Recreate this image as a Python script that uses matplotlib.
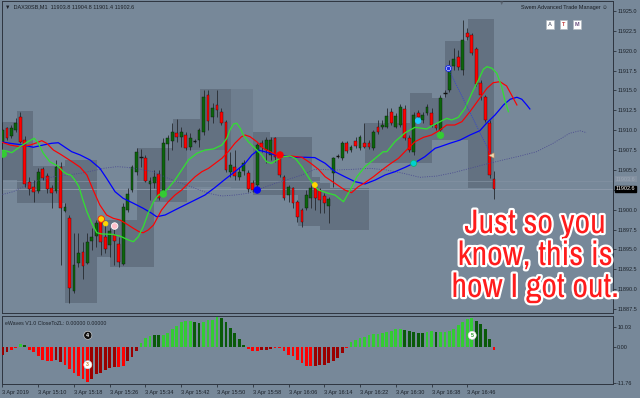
import matplotlib
matplotlib.use('Agg')
import matplotlib.pyplot as plt
import matplotlib.transforms as mtransforms
from matplotlib.patches import Rectangle
from matplotlib import patheffects as pe
from matplotlib import font_manager as fm
import numpy as np

plt.rcParams['font.family'] = ['Liberation Sans', 'DejaVu Sans']

# ---------------- data ----------------
symbol_label = '▼  DAX30SB,M1  11903.8 11904.8 11901.4 11902.6'
osc_label = 'eWaves V1.0 CloseToZL: 0.00000 0.00000'
last_price = 11902.6
ask_price = 11903.6

opens = [11908.51, 11910.27, 11909.27, 11910.02, 11911.66, 11908.76, 11903.48, 11902.85, 11902.35, 11905.11,
         11904.23, 11902.72, 11902.35, 11905.37, 11899.83, 11898.95, 11889.76, 11893.29, 11894.67, 11893.29,
         11896.05, 11896.68, 11898.70, 11896.56, 11895.55, 11896.81, 11895.68, 11893.16, 11899.96, 11902.47,
         11904.74, 11906.62, 11906.50, 11903.23, 11903.35, 11904.49, 11902.10, 11908.26, 11908.64, 11909.64,
         11909.14, 11909.39, 11907.88, 11908.64, 11908.76, 11909.77, 11914.43, 11911.66, 11913.17, 11912.29,
         11911.03, 11904.74, 11905.37, 11904.11, 11904.86, 11904.61, 11903.35, 11903.10, 11908.39, 11907.50,
         11906.88, 11909.01, 11906.62, 11904.11, 11901.84, 11902.72, 11900.96, 11899.96, 11900.21, 11901.47,
         11902.85, 11902.47, 11901.72, 11900.46, 11904.61, 11906.75, 11906.50, 11908.39, 11907.50, 11908.64,
         11907.76, 11908.39, 11908.39, 11907.76, 11910.40, 11910.40, 11910.40, 11912.29, 11910.40, 11910.65,
         11912.66, 11909.01, 11907.25, 11912.16, 11911.28, 11912.16, 11912.16, 11910.65, 11910.02, 11914.68,
         11915.06, 11918.08, 11919.21, 11917.57, 11922.23, 11921.98, 11920.21, 11915.94, 11914.17, 11910.90,
         11903.86]
highs = [11911.03, 11910.40, 11910.65, 11911.53, 11912.29, 11909.27, 11904.11, 11903.73, 11905.24, 11905.37,
         11904.61, 11903.10, 11906.25, 11906.00, 11900.84, 11899.33, 11897.06, 11897.06, 11895.93, 11897.06,
         11897.69, 11898.70, 11899.08, 11898.32, 11897.69, 11897.82, 11896.56, 11900.84, 11902.72, 11905.62,
         11907.76, 11907.63, 11906.88, 11904.11, 11904.99, 11904.99, 11909.01, 11909.39, 11910.90, 11911.40,
         11910.40, 11909.77, 11909.64, 11908.89, 11910.27, 11915.06, 11915.06, 11913.42, 11915.06, 11912.79,
         11911.28, 11907.25, 11907.50, 11905.37, 11906.25, 11904.99, 11903.73, 11908.39, 11908.76, 11909.14,
         11909.14, 11909.14, 11906.88, 11904.36, 11903.10, 11902.85, 11901.22, 11900.21, 11902.47, 11903.10,
         11903.10, 11902.72, 11902.10, 11901.59, 11906.62, 11907.00, 11908.64, 11908.64, 11908.13, 11909.14,
         11909.39, 11910.90, 11908.76, 11910.02, 11911.28, 11911.28, 11912.79, 11912.79, 11912.16, 11913.29,
         11913.17, 11909.39, 11912.29, 11912.54, 11912.29, 11913.29, 11912.79, 11910.90, 11914.43, 11915.06,
         11918.83, 11920.34, 11920.09, 11923.86, 11922.86, 11922.23, 11920.47, 11916.31, 11914.43, 11911.28,
         11904.86]
lows = [11907.50, 11908.76, 11909.01, 11909.77, 11908.39, 11902.85, 11901.84, 11900.96, 11902.10, 11903.73,
        11902.10, 11900.21, 11902.10, 11893.04, 11899.71, 11888.25, 11889.51, 11892.78, 11891.27, 11893.16,
        11894.92, 11895.30, 11894.30, 11894.55, 11894.04, 11893.04, 11892.78, 11893.04, 11899.71, 11902.22,
        11904.36, 11905.37, 11903.48, 11901.22, 11902.72, 11901.22, 11901.84, 11906.25, 11907.50, 11908.51,
        11907.88, 11907.50, 11907.50, 11908.39, 11907.88, 11909.39, 11910.02, 11910.90, 11911.66, 11910.65,
        11904.74, 11904.11, 11903.73, 11903.73, 11904.36, 11902.22, 11902.22, 11902.72, 11907.25, 11905.87,
        11906.25, 11906.00, 11904.11, 11901.22, 11900.96, 11900.21, 11898.45, 11897.82, 11899.96, 11900.21,
        11899.96, 11899.58, 11899.58, 11898.32, 11902.85, 11906.50, 11906.25, 11907.13, 11907.25, 11907.76,
        11907.50, 11907.76, 11907.63, 11907.50, 11909.52, 11910.15, 11910.27, 11910.65, 11910.27, 11910.40,
        11908.76, 11907.25, 11906.88, 11911.40, 11910.90, 11911.91, 11910.40, 11910.02, 11909.77, 11914.17,
        11914.80, 11917.57, 11917.57, 11916.94, 11921.35, 11919.46, 11915.56, 11913.80, 11911.03, 11903.98,
        11901.34]
closes = [11910.02, 11909.01, 11910.27, 11910.90, 11908.51, 11903.23, 11902.60, 11902.22, 11904.74, 11903.98,
          11902.60, 11902.10, 11905.37, 11900.21, 11900.34, 11890.14, 11893.04, 11894.55, 11892.91, 11895.93,
          11896.56, 11898.32, 11895.93, 11895.05, 11897.31, 11896.05, 11893.41, 11900.34, 11901.97, 11905.37,
          11907.25, 11906.55, 11903.61, 11903.61, 11904.11, 11901.47, 11908.39, 11909.01, 11909.77, 11909.14,
          11909.77, 11907.76, 11909.01, 11908.58, 11910.02, 11914.17, 11911.15, 11912.79, 11912.54, 11910.90,
          11904.99, 11905.62, 11904.23, 11904.74, 11905.87, 11902.60, 11902.47, 11908.13, 11907.88, 11908.76,
          11908.76, 11906.62, 11904.36, 11901.47, 11902.85, 11900.84, 11899.08, 11898.45, 11901.84, 11902.72,
          11901.47, 11901.22, 11900.84, 11901.34, 11906.50, 11906.70, 11908.39, 11907.38, 11907.88, 11908.01,
          11909.14, 11907.88, 11907.88, 11909.77, 11909.77, 11910.65, 11911.78, 11910.90, 11911.78, 11912.92,
          11909.01, 11907.50, 11911.91, 11911.66, 11911.91, 11912.92, 11910.65, 11910.27, 11914.05, 11914.60,
          11917.82, 11918.96, 11917.95, 11921.35, 11921.72, 11919.71, 11915.81, 11914.43, 11911.28, 11904.36,
          11902.60]

# moving-average lines (bar index, price)
green_x = [-0.5, 0.6, 2.1, 3.9, 5.7, 7.1, 8.0, 9.1, 10.6, 12.4, 13.6, 14.5, 15.3, 16.2, 17.1, 18.0, 18.9, 20.0,
           21.1, 22.2, 24.5, 26.3, 28.2, 29.3, 30.4, 31.5, 32.6, 33.8, 34.9, 36.0, 37.1, 38.6, 40.1, 41.6, 43.5,
           45.3, 47.2, 49.1, 50.2, 50.9, 51.7, 52.4, 53.2, 53.9, 55.0, 56.5, 58.0, 59.1, 60.2, 61.4, 62.8, 64.3,
           65.5, 67.0, 68.4, 69.6, 70.7, 72.9, 74.4, 76.3, 77.8, 79.3, 81.1, 83.4, 85.2, 86.0, 87.8, 90.1, 92.3,
           93.8, 94.9, 96.4, 97.9, 99.4, 100.5, 102.0, 103.5, 105.0, 106.5, 107.6, 108.4, 109.5, 110.6, 111.7,
           112.4, 113.2]
green_y = [11907.50, 11907.42, 11907.17, 11907.92, 11908.55, 11908.98, 11908.39, 11907.13, 11906.03, 11905.49,
           11904.78, 11904.45, 11904.36, 11903.73, 11902.89, 11901.22, 11899.74, 11898.28, 11897.10, 11896.94,
           11896.90, 11896.68, 11896.18, 11895.97, 11896.60, 11897.85, 11899.54, 11901.00, 11901.84, 11902.06,
           11902.69, 11903.73, 11904.99, 11906.25, 11907.09, 11907.50, 11907.63, 11908.13, 11908.98, 11910.02,
           11910.78, 11910.87, 11910.24, 11909.39, 11908.55, 11907.72, 11906.88, 11906.03, 11905.83, 11906.25,
           11906.66, 11906.75, 11906.46, 11905.40, 11904.14, 11903.10, 11902.47, 11902.06, 11901.84, 11901.00,
           11902.47, 11904.14, 11905.40, 11906.46, 11907.29, 11907.29, 11908.55, 11909.68, 11910.36, 11910.24,
           11910.15, 11910.65, 11911.07, 11911.49, 11911.28, 11911.62, 11912.75, 11914.64, 11916.31, 11917.66,
           11917.99, 11917.79, 11917.16, 11915.47, 11913.80, 11912.33]
red_x = [-0.5, 1.7, 3.9, 6.2, 7.7, 8.8, 9.9, 11.4, 12.9, 14.4, 15.9, 17.4, 18.9, 20.3, 21.8, 23.3, 24.8, 26.3,
         27.8, 29.3, 30.8, 31.5, 32.6, 33.8, 35.6, 37.1, 38.6, 40.1, 41.6, 43.1, 44.6, 46.1, 47.6, 49.1, 50.5,
         52.0, 53.5, 54.3, 55.4, 56.9, 58.4, 59.9, 61.4, 62.8, 64.7, 67.0, 68.8, 70.7, 72.2, 74.4, 76.6, 78.1,
         79.6, 81.1, 83.0, 84.9, 86.7, 88.6, 90.4, 92.3, 94.2, 96.0, 97.9, 99.4, 101.2, 102.8, 104.6, 106.5,
         108.4, 109.8, 111.3, 112.8, 113.9, 115.1]
red_y = [11908.55, 11908.13, 11907.92, 11908.13, 11908.42, 11908.68, 11908.35, 11907.50, 11907.00, 11906.46,
         11905.91, 11905.33, 11904.36, 11902.47, 11900.58, 11899.33, 11898.91, 11898.70, 11898.19, 11897.65,
         11897.15, 11897.10, 11897.44, 11898.07, 11899.96, 11901.00, 11901.84, 11902.47, 11903.32, 11904.14,
         11904.77, 11905.20, 11905.83, 11906.46, 11907.29, 11908.35, 11909.18, 11909.39, 11909.18, 11908.55,
         11907.72, 11907.29, 11906.88, 11906.66, 11906.75, 11906.59, 11905.91, 11905.08, 11904.14, 11903.31,
         11902.47, 11902.13, 11902.89, 11903.39, 11904.14, 11904.99, 11905.74, 11906.46, 11907.50, 11908.55,
         11909.10, 11909.39, 11910.02, 11910.65, 11910.65, 11911.07, 11912.33, 11913.80, 11915.27, 11915.97,
         11916.10, 11915.56, 11914.43, 11913.17]
blue_x = [-0.5, 1.7, 4.7, 6.9, 9.1, 11.0, 12.5, 14.0, 15.5, 17.4, 19.6, 21.8, 23.3, 25.2, 27.0, 29.3, 31.5,
          33.4, 34.5, 36.4, 38.6, 40.8, 43.1, 45.3, 47.6, 49.8, 52.0, 54.3, 55.8, 57.2, 58.7, 61.0, 63.2, 65.5,
          67.7, 69.9, 72.2, 74.4, 76.6, 78.9, 81.1, 83.4, 85.6, 87.8, 90.1, 92.3, 94.5, 96.8, 97.9, 100.1,
          102.4, 104.6, 106.8, 108.3, 110.2, 112.1, 113.6, 115.1, 116.2, 117.3, 118.0]
blue_y = [11908.55, 11908.35, 11908.13, 11907.85, 11908.13, 11908.35, 11908.42, 11907.85, 11907.29, 11906.88,
          11906.25, 11905.20, 11903.94, 11902.26, 11901.43, 11900.80, 11900.17, 11899.54, 11899.11, 11899.33,
          11899.96, 11900.58, 11901.22, 11901.84, 11902.81, 11903.82, 11904.77, 11905.83, 11906.88, 11907.50,
          11907.29, 11906.88, 11906.75, 11906.59, 11906.59, 11906.55, 11905.83, 11904.77, 11904.14, 11903.52,
          11903.23, 11903.73, 11904.36, 11904.77, 11905.33, 11905.91, 11906.66, 11907.72, 11907.92, 11908.35,
          11908.76, 11909.39, 11909.93, 11910.87, 11911.91, 11913.17, 11913.89, 11914.14, 11913.89, 11913.17,
          11912.67]
slow_x = [-0.5, 2.4, 5.4, 8.4, 11.4, 14.4, 17.4, 20.3, 22.6, 25.6, 27.8, 30.8, 33.8, 37.1, 40.1, 43.1, 46.1,
          49.1, 52.0, 55.0, 58.0, 61.0, 64.0, 67.0, 69.9, 74.8, 78.5, 82.2, 86.0, 89.7, 93.4, 97.2, 100.9, 104.6,
          108.3, 112.0, 115.8, 119.5, 123.2, 126.9, 129.2, 130.7]
slow_y = [11901.84, 11902.26, 11903.10, 11903.73, 11904.14, 11904.36, 11904.57, 11904.90, 11905.20, 11905.41,
          11905.33, 11905.08, 11904.77, 11903.94, 11903.31, 11902.69, 11902.06, 11901.72, 11901.84, 11902.06,
          11902.69, 11903.31, 11903.82, 11904.36, 11905.08, 11904.99, 11905.08, 11905.20, 11904.99, 11904.57,
          11904.07, 11904.23, 11904.65, 11905.20, 11905.74, 11906.25, 11906.75, 11907.29, 11908.35, 11909.61,
          11909.93, 11909.68]

# higher-timeframe range boxes: (start bar, end bar, top price, bottom price)
range_boxes = [
    (-0.54, 3.27, 11911.03, 11903.73), (3.27, 6.85, 11912.41, 11900.84), (6.85, 14.0, 11905.49, 11900.84),
    (14.0, 21.2, 11906.25, 11888.25), (21.2, 24.1, 11898.70, 11894.04), (24.1, 30.1, 11898.70, 11892.78),
    (30.1, 33.9, 11907.76, 11892.78), (33.9, 38.2, 11907.76, 11900.96), (38.2, 41.3, 11911.40, 11900.96),
    (41.3, 44.2, 11911.40, 11907.50), (44.2, 51.1, 11915.18, 11907.50), (56.1, 59.9, 11909.77, 11901.84),
    (59.9, 66.1, 11909.14, 11901.84), (66.1, 69.3, 11909.14, 11897.95), (69.3, 71.1, 11904.11, 11897.95),
    (71.1, 73.3, 11903.35, 11897.44), (73.3, 82.0, 11902.72, 11897.44), (81.1, 91.2, 11910.90, 11905.87),
    (91.2, 96.1, 11914.68, 11905.87), (96.1, 99.0, 11914.05, 11908.76), (99.0, 104.2, 11921.22, 11908.76),
    (104.2, 110.0, 11924.00, 11902.72)]
light_boxes = [(51.1, 56.1, 11915.18, 11902.72), (41.3, 51.1, 11907.50, 11902.85)]

# signal dots (bar index, price)
dot_x = [0.2, 22.1, 23.1, 25.1, 36.0, 57.0, 62.1, 69.9, 93.0, 92.0, 98.0]
dot_y = [11906.99, 11898.82, 11898.23, 11897.94, 11901.97, 11902.47, 11906.88, 11903.10, 11911.19, 11905.83, 11909.36]
trend_x = [99.7, 109.3]
trend_y = [11917.79, 11906.88]

# oscillator histogram
osc = [-2.34, -1.58, -0.72, -0.28, 1.13, 0.59, -0.72, -1.47, -2.88, -3.97,
       -4.51, -4.51, -3.97, -4.83, -5.59, -7.00, -8.30, -9.17, -10.25, -11.00,
       -10.25, -8.52, -8.09, -7.22, -6.68, -6.35, -6.35, -5.92, -4.51, -3.10,
       -1.26, 1.45, 3.08, 3.62, 3.84, 3.84, 3.84, 4.70, 5.79, 6.87,
       7.96, 8.28, 8.28, 8.17, 7.63, 8.17, 8.72, 8.72, 9.58, 9.26,
       7.96, 6.33, 4.49, 2.54, 0.59, -0.50, -1.04, -1.04, -0.72, -0.72,
       -0.50, -0.28, -0.07, -1.26, -2.34, -2.88, -4.18, -5.05, -5.92, -6.14,
       -6.14, -5.59, -5.59, -5.05, -4.29, -3.43, -1.80, -0.17, 1.67, 2.32,
       3.08, 3.40, 3.84, 4.16, 4.38, 4.70, 4.92, 5.14, 5.79, 5.79,
       5.46, 5.25, 4.92, 4.70, 4.70, 5.03, 5.25, 4.92, 4.92, 4.92,
       5.25, 5.79, 7.09, 8.17, 9.04, 9.26, 8.50, 7.41, 5.79, 2.75,
       -0.93]
osc_state = ("DDRRGKRRRR" "RRDDRRRRRR" "DDDDDDRRDD" "DGGGKKGGGG" "GGGKKGGGGK" "KKKKKRRRDD"
             "DRRRRRRRRR" "DDDDDDDRGG" "GGGGGGGGGG" "KKKKKGGKGG" "GGGGGGKKKK" "R")
wave_x = [19.1, 19.1, 105.1]
wave_y = [3.84, -5.59, 3.84]
wave_lbl = ['4', '3', '5']
osc_max, osc_min = 10.03, -11.76

time_ticks = list(range(0, 105, 8))
time_labels = ['3 Apr 2019', '3 Apr 15:10', '3 Apr 15:18', '3 Apr 15:26', '3 Apr 15:34', '3 Apr 15:42',
               '3 Apr 15:50', '3 Apr 15:58', '3 Apr 16:06', '3 Apr 16:14', '3 Apr 16:22', '3 Apr 16:30',
               '3 Apr 16:38', '3 Apr 16:46']
price_ticks = [11887.5 + 2.5 * k for k in range(16)]
caption = ['Just so you', 'know, this is', 'how I got out.']

# ---------------- drawing ----------------
BG = '#778899'
W, H = 640, 398
fig = plt.figure(figsize=(6.4, 3.98), dpi=100, facecolor=BG)

def rect(x0, y0, x1, y1):
    return [x0 / W, 1 - y1 / H, (x1 - x0) / W, (y1 - y0) / H]

ax = fig.add_axes(rect(2, 1, 613, 313), facecolor=BG)
ax2 = fig.add_axes(rect(2, 316, 613, 384), facecolor=BG)
XL = (-0.1, 136.6)

for a in (ax, ax2):
    a.set_xlim(*XL)
    for s in a.spines.values():
        s.set_color('#2e3540')
        s.set_linewidth(0.7)
ax.set_ylim(11887.0, 11926.25)

for (x0, x1, top, bot) in range_boxes:
    ax.add_patch(Rectangle((x0, bot), x1 - x0, top - bot, facecolor='#3a4250', alpha=0.32, lw=0, zorder=1))
for (x0, x1, top, bot) in light_boxes:
    ax.add_patch(Rectangle((x0, bot), x1 - x0, top - bot, facecolor='#4a5464', alpha=0.18, lw=0, zorder=1))

ax.axhline(last_price, color='#8e9bab', lw=0.6, zorder=1.5)
ax.axhline(ask_price, color='#8391a2', lw=0.5, zorder=1.5)

xi = np.arange(len(opens))
o, h, l, c = map(np.array, (opens, highs, lows, closes))
up = c > o + 0.1
dn = c < o - 0.1
dj = ~(up | dn)
ax.vlines(xi, l, h, color='#25292e', lw=0.6, zorder=3)
ax.bar(xi[up], (c - o)[up], bottom=o[up], width=0.62, color='#0b650b', edgecolor='#101510', lw=0.3, zorder=4)
ax.bar(xi[dn], (c - o)[dn], bottom=o[dn], width=0.62, color='#ff0000', edgecolor='#3a0a0a', lw=0.3, zorder=4)
ax.hlines(o[dj], xi[dj] - 0.35, xi[dj] + 0.35, color='#111111', lw=1.0, zorder=4)

ax.plot(slow_x, slow_y, color='#4a4a90', lw=0.6, ls=(0, (1.2, 1.6)), zorder=5)
ax.plot(blue_x, blue_y, color='#0000ff', lw=0.9, zorder=5)
ax.plot(red_x, red_y, color='#ff0000', lw=0.85, zorder=5)
ax.plot(green_x, green_y, color='#33dd33', lw=0.95, zorder=5)
ax.plot(trend_x, trend_y, color='#2a3ae0', lw=0.5, ls=(0, (1.5, 1.5)), zorder=5)

dot_fc = ['#33cc33', '#ffd700', '#ffd700', '#ffc0cb', '#33cc33', '#0000ff', '#ff0000', '#ffd700', '#1ec8ff', '#00d0d0', '#33cc33']
dot_ec = ['#33cc33', '#ff2000', '#ffd700', '#ffffff', '#33cc33', '#0000ff', '#ff0000', '#ffd700', '#1ec8ff', '#22aa66', '#33cc33']
dot_s = [22, 22, 10, 22, 22, 22, 22, 12, 16, 20, 22]
ax.scatter(dot_x, dot_y, s=dot_s, c=dot_fc, edgecolors=dot_ec, linewidths=0.6, zorder=6, clip_on=True)
ax.scatter([trend_x[0]], [trend_y[0]], s=18, c='white', edgecolors='#2030e0', linewidths=0.8, zorder=7)
ax.scatter([trend_x[0]], [trend_y[0]], s=3, c='#2030e0', zorder=8)
ax.scatter([trend_x[1]], [trend_y[1]], s=14, marker='<', c='#f0d8b0', edgecolors='#c09060', linewidths=0.4, zorder=7)

SMALL = 4.0
ax.set_xticks([])
ax.yaxis.tick_right()
ax.set_yticks(price_ticks)
# the 11902.5 label sits under the current-price box, as on the original
ax.set_yticklabels(['' if abs(v - last_price) < 0.5 else f'{v:.1f}' for v in price_ticks])
ax.tick_params(axis='y', labelsize=SMALL, colors='#1c222a', length=2.5, width=0.5, pad=1.0)

tr = mtransforms.blended_transform_factory(ax.transAxes, ax.transData)
ax.text(1.005, ask_price + 0.25, f'{ask_price:.1f}', transform=tr, fontsize=SMALL, color='#9aa6b4', va='center', ha='left',
        bbox=dict(boxstyle='square,pad=0.15', fc='#8390a0', ec='none'), zorder=9, clip_on=False)
ax.text(1.005, last_price, f'{last_price:.1f}', transform=tr, fontsize=SMALL, color='white', va='center', ha='left',
        bbox=dict(boxstyle='square,pad=0.15', fc='black', ec='black'), zorder=10, clip_on=False)

# oscillator panel
cmap = {'R': '#ff0000', 'D': '#9a0000', 'G': '#33cc33', 'K': '#0a5a0a'}
ax2.bar(np.arange(len(osc)), osc, width=0.62, color=[cmap[k] for k in osc_state], lw=0, zorder=3)
ax2.set_ylim(osc_min, osc_max)
wave_fc = ['#111111', '#ffffff', '#ffffff']
wave_tc = ['#ffffff', '#d08030', '#2a9a2a']
ax2.scatter(wave_x, wave_y, s=34, c=wave_fc, edgecolors='#dddddd', linewidths=0.4, zorder=5)
for wx, wy, wl, tc in zip(wave_x, wave_y, wave_lbl, wave_tc):
    ax2.text(wx, wy, wl, fontsize=3.8, color=tc, ha='center', va='center', fontweight='bold', zorder=6)
ax2.yaxis.tick_right()
ax2.set_yticks([6.4, 0.0, -11.3])
ax2.set_yticklabels([f'{osc_max:.2f}', '0.00', f'{osc_min:.2f}'])
ax2.tick_params(axis='y', labelsize=SMALL, colors='#1c222a', length=2.0, width=0.5, pad=1.0)
ax2.set_xticks(time_ticks)
ax2.set_xticklabels(time_labels, ha='left')
ax2.tick_params(axis='x', labelsize=SMALL, colors='#1c222a', length=2.5, width=0.5, pad=1.5)
ax2.text(0.005, 0.93, osc_label, transform=ax2.transAxes, fontsize=3.8, color='#1c222a', va='top', ha='left')

# header texts
fig.text(5 / W, 1 - 7 / H, symbol_label, fontsize=SMALL, color='#1a1f26', va='center', ha='left')
fig.text(608 / W, 1 - 7 / H, 'Swem Advanced Trade Manager \u263a', fontsize=SMALL, color='#1a1f26', va='center', ha='right')
for bx, lbl, col in zip([550, 563.5, 577], ['A', 'T', 'M'], ['#6a7080', '#c04040', '#6a5080']):
    fig.text(bx / W, 1 - 24.5 / H, lbl, fontsize=SMALL, color=col, ha='center', va='center', fontweight='bold',
             bbox=dict(boxstyle='square,pad=0.35', fc='white', ec='#b0b8c0', lw=0.5))
fig.text(502 / W, 1 - 3 / H, '▼', fontsize=4, color='#5a6470', ha='center', va='center')

# caption font: prefer a condensed bold face if one is installed
cap_kw = dict(family='Liberation Sans')
pref = []
for f in fm.fontManager.ttflist:
    nm = f.name
    if ('Condensed' in nm or 'Narrow' in nm) and 'Mono' not in nm and 'CJK' not in nm:
        pref.append((0 if 'Roboto' in nm or 'Narrow' in nm else 1, dict(family=nm)))
    elif f.stretch in ('condensed', 'semi-condensed', 'extra-condensed') and 'Mono' not in f.name and 'CJK' not in nm:
        pref.append((2, dict(family=nm, stretch=f.stretch)))
if pref:
    pref.sort(key=lambda t: t[0])
    cap_kw = pref[0][1]

renderer = fig.canvas.get_renderer()
probe = fig.text(0, 0, caption[1], fontsize=20, fontweight='bold', **cap_kw)
wpx = probe.get_window_extent(renderer).width
probe.remove()
cap_size = 20 * 155.0 / wpx

for k, line in enumerate(caption):
    t = fig.text(535 / W, 1 - (233 + 32 * k) / H, line, fontsize=cap_size, color='#ff1c1c', ha='center',
                 va='baseline', fontweight='bold', zorder=20, **cap_kw)
    t.set_path_effects([pe.withStroke(linewidth=3.2, foreground='white')])

fig.savefig('out.png', dpi=100, facecolor=BG)
